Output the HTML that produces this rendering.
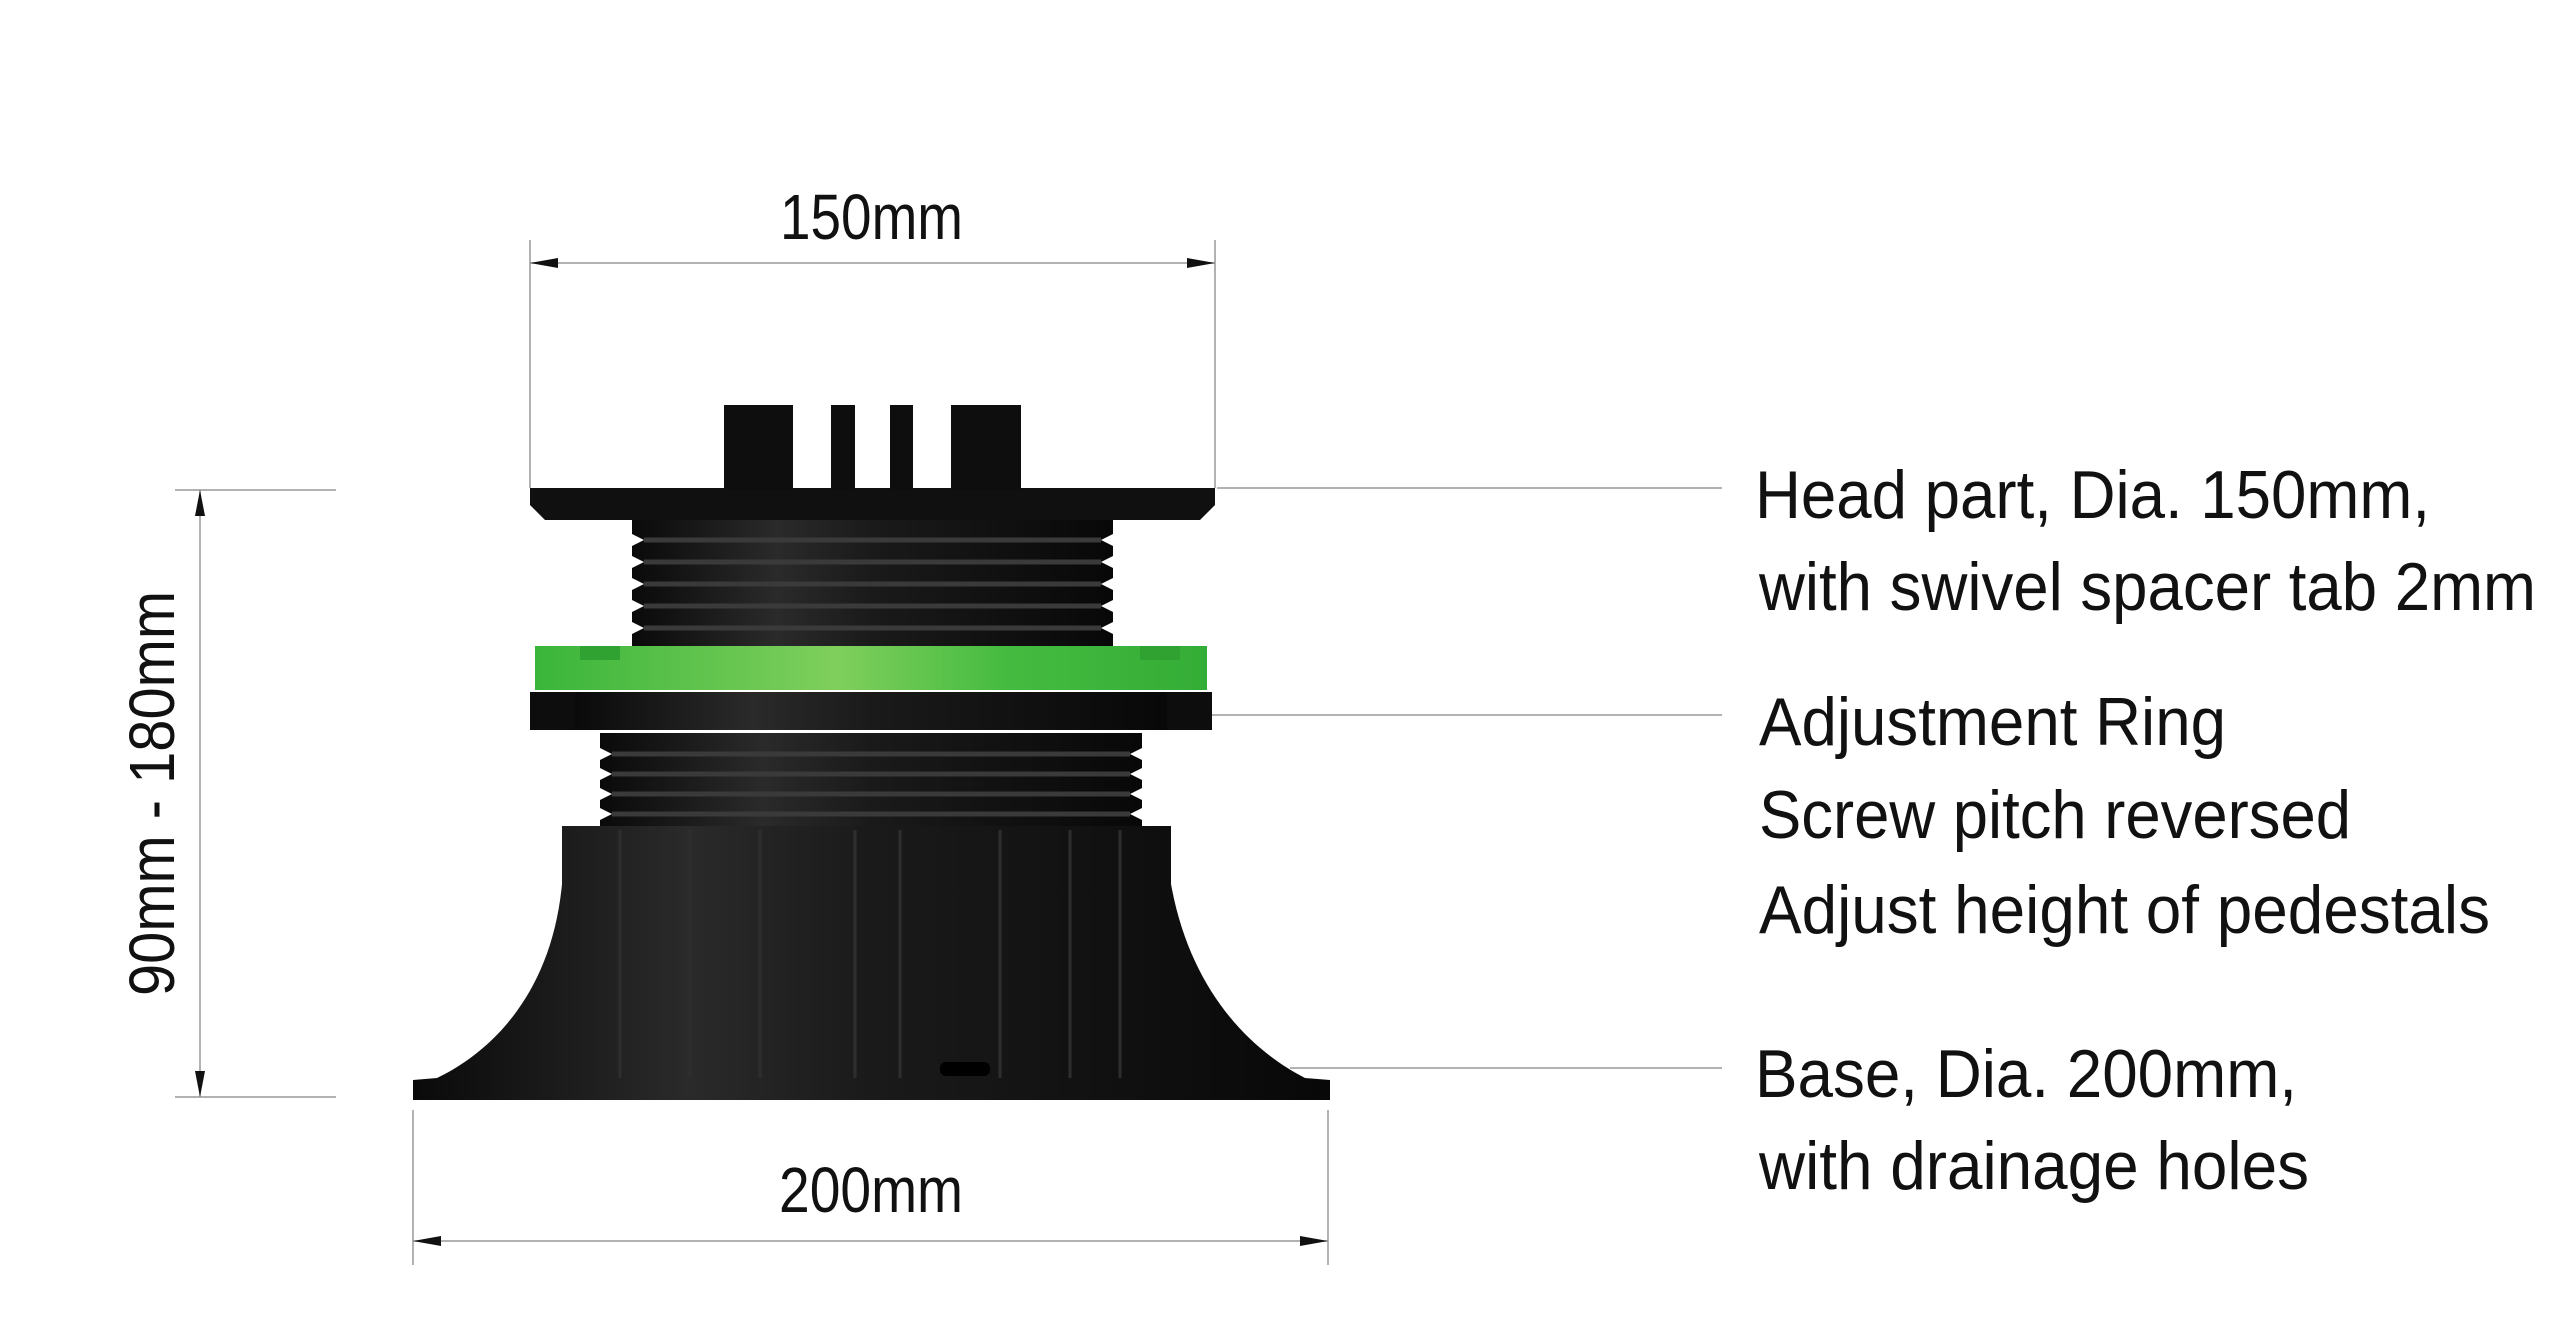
<!DOCTYPE html>
<html><head><meta charset="utf-8"><style>
html,body{margin:0;padding:0;background:#fff;}
svg{display:block;}
text{font-family:"Liberation Sans",sans-serif;fill:#111;}
</style></head><body>
<svg width="2560" height="1336" viewBox="0 0 2560 1336" xmlns="http://www.w3.org/2000/svg">
<defs>
<linearGradient id="body" x1="0" x2="1" y1="0" y2="0">
<stop offset="0" stop-color="#0a0a0a"/><stop offset="0.3" stop-color="#2a2a2a"/><stop offset="0.5" stop-color="#1a1a1a"/><stop offset="1" stop-color="#080808"/>
</linearGradient>
<linearGradient id="green" x1="0" x2="1" y1="0" y2="0">
<stop offset="0" stop-color="#3ab53a"/><stop offset="0.45" stop-color="#7fcf5c"/><stop offset="0.7" stop-color="#45bb40"/><stop offset="1" stop-color="#34ad36"/>
</linearGradient>
</defs>

<g stroke="#999" stroke-width="1.5" fill="none">
<line x1="530" y1="240" x2="530" y2="488"/>
<line x1="1215" y1="240" x2="1215" y2="488"/>
<line x1="530" y1="263" x2="1215" y2="263"/>
<line x1="413" y1="1110" x2="413" y2="1265"/>
<line x1="1328" y1="1110" x2="1328" y2="1265"/>
<line x1="413" y1="1241" x2="1328" y2="1241"/>
<line x1="175" y1="490" x2="336" y2="490"/>
<line x1="175" y1="1097" x2="336" y2="1097"/>
<line x1="200" y1="490" x2="200" y2="1097"/>
<line x1="1217" y1="488" x2="1722" y2="488"/>
<line x1="1212" y1="715" x2="1722" y2="715"/>
<line x1="1290" y1="1068" x2="1722" y2="1068"/>
</g>
<g fill="#111">
<polygon points="530,263 558,258 558,268"/>
<polygon points="1215,263 1187,258 1187,268"/>
<polygon points="413,1241 441,1236 441,1246"/>
<polygon points="1328,1241 1300,1236 1300,1246"/>
<polygon points="200,490 195,516 205,516"/>
<polygon points="200,1097 195,1071 205,1071"/>
</g>

<path d="M562,826 L1171,826 L1171,884 C1190,990 1250,1050 1305,1078 L1330,1080 L1330,1100 L413,1100 L413,1080 L437,1078 C495,1050 552,990 562,884 Z" fill="url(#body)"/>
<g stroke="#2e2e2e" stroke-width="3">
<line x1="620" y1="830" x2="620" y2="1078"/><line x1="690" y1="830" x2="690" y2="1078"/>
<line x1="760" y1="830" x2="760" y2="1078"/><line x1="855" y1="830" x2="855" y2="1078"/>
<line x1="900" y1="830" x2="900" y2="1078"/><line x1="1000" y1="830" x2="1000" y2="1078"/>
<line x1="1070" y1="830" x2="1070" y2="1078"/><line x1="1120" y1="830" x2="1120" y2="1078"/>
</g>
<rect x="940" y="1062" width="50" height="14" rx="6" fill="#000"/>
<rect x="600" y="733" width="542" height="93" fill="url(#body)"/>
<g fill="#fff">
<polygon points="600,748 612,754 600,760"/><polygon points="600,768 612,774 600,780"/><polygon points="600,788 612,794 600,800"/><polygon points="600,808 612,814 600,820"/>
<polygon points="1142,748 1130,754 1142,760"/><polygon points="1142,768 1130,774 1142,780"/><polygon points="1142,788 1130,794 1142,800"/><polygon points="1142,808 1130,814 1142,820"/>
</g>
<g stroke="#3a3a3a" stroke-width="5">
<line x1="612" y1="754" x2="1130" y2="754"/><line x1="612" y1="774" x2="1130" y2="774"/>
<line x1="612" y1="794" x2="1130" y2="794"/><line x1="612" y1="814" x2="1130" y2="814"/>
</g>
<rect x="530" y="692" width="682" height="38" fill="#0d0d0d"/>
<rect x="575" y="692" width="592" height="38" fill="url(#body)"/>
<rect x="535" y="646" width="672" height="44" fill="url(#green)"/>
<rect x="580" y="646" width="40" height="14" fill="#2fa232"/>
<rect x="1140" y="646" width="40" height="14" fill="#2fa232"/>
<rect x="632" y="520" width="481" height="126" fill="url(#body)"/>
<g fill="#fff">
<polygon points="632,534 644,540 632,546"/><polygon points="632,556 644,562 632,568"/><polygon points="632,578 644,584 632,590"/><polygon points="632,600 644,606 632,612"/><polygon points="632,622 644,628 632,634"/>
<polygon points="1113,534 1101,540 1113,546"/><polygon points="1113,556 1101,562 1113,568"/><polygon points="1113,578 1101,584 1113,590"/><polygon points="1113,600 1101,606 1113,612"/><polygon points="1113,622 1101,628 1113,634"/>
</g>
<g stroke="#3a3a3a" stroke-width="5">
<line x1="644" y1="540" x2="1101" y2="540"/><line x1="644" y1="562" x2="1101" y2="562"/>
<line x1="644" y1="584" x2="1101" y2="584"/><line x1="644" y1="606" x2="1101" y2="606"/>
<line x1="644" y1="628" x2="1101" y2="628"/>
</g>
<path d="M530,488 L1215,488 L1215,505 L1200,520 L545,520 L530,505 Z" fill="#101010"/>
<rect x="724" y="405" width="69" height="85" fill="#0e0e0e"/>
<rect x="831" y="405" width="24" height="85" fill="#0e0e0e"/>
<rect x="890" y="405" width="23" height="85" fill="#0e0e0e"/>
<rect x="951" y="405" width="70" height="85" fill="#0e0e0e"/>

<text x="780" y="239" font-size="64" textLength="183" lengthAdjust="spacingAndGlyphs">150mm</text>
<text x="779" y="1212" font-size="64" textLength="184" lengthAdjust="spacingAndGlyphs">200mm</text>
<text transform="translate(174,996) rotate(-90)" font-size="64" textLength="405" lengthAdjust="spacingAndGlyphs">90mm - 180mm</text>

<g font-size="68">
<text x="1755" y="518" textLength="675" lengthAdjust="spacingAndGlyphs">Head part, Dia. 150mm,</text>
<text x="1759" y="610" textLength="777" lengthAdjust="spacingAndGlyphs">with swivel spacer tab 2mm</text>
<text x="1759" y="745" textLength="467" lengthAdjust="spacingAndGlyphs">Adjustment Ring</text>
<text x="1759" y="838" textLength="592" lengthAdjust="spacingAndGlyphs">Screw pitch reversed</text>
<text x="1759" y="933" textLength="731" lengthAdjust="spacingAndGlyphs">Adjust height of pedestals</text>
<text x="1755" y="1097" textLength="542" lengthAdjust="spacingAndGlyphs">Base, Dia. 200mm,</text>
<text x="1759" y="1189" textLength="550" lengthAdjust="spacingAndGlyphs">with drainage holes</text>
</g>
</svg>
</body></html>
